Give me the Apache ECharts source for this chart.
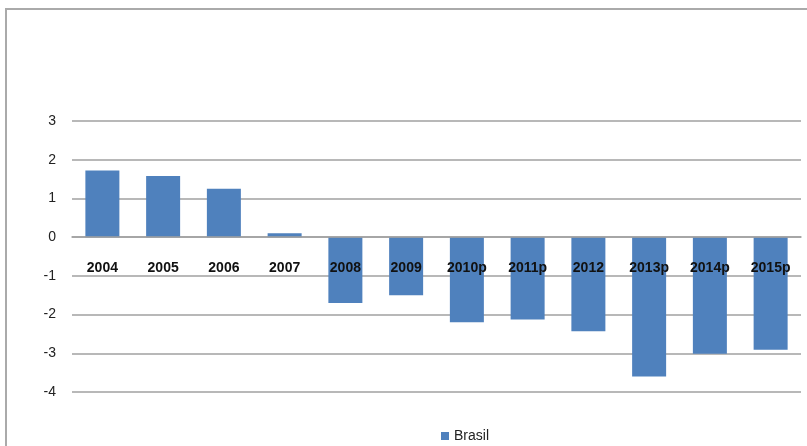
<!DOCTYPE html>
<html>
<head>
<meta charset="utf-8">
<script src="https://cdn.jsdelivr.net/npm/echarts@6/dist/echarts.min.js"></script>
<style>
  html, body { margin: 0; padding: 0; background: #fff; }
  #chart { width: 807px; height: 446px; }
</style>
</head>
<body>
<div id="chart"></div>
<script>
// categorias (anos) e valores da série Brasil
const years = ["2004", "2005", "2006", "2007", "2008", "2009", "2010p", "2011p", "2012", "2013p", "2014p", "2015p"];
const brasil = [1.72, 1.58, 1.25, 0.1, -1.7, -1.5, -2.2, -2.13, -2.43, -3.6, -3.01, -2.91];
const seriesName = "Brasil";

const chart = echarts.init(document.getElementById("chart"));

const option = {
  animation: false,
  backgroundColor: "#fff",
  textStyle: { fontFamily: "Liberation Sans" },
  graphic: [
    {
      type: "rect",
      shape: { x: 6, y: 9, width: 900, height: 600 },
      style: { fill: "none", stroke: "#aaaaaa", lineWidth: 2 },
      silent: true,
    },
  ],
  legend: {
    data: [seriesName],
    left: 436,
    top: 424,
    itemWidth: 8,
    itemHeight: 8,
    itemGap: 5,
    icon: "rect",
    textStyle: { fontSize: 14, color: "#222", fontFamily: "Liberation Sans" },
  },
  grid: {
    left: 72,
    right: 6,
    top: 121,
    bottom: 54,
    containLabel: false,
  },
  xAxis: {
    type: "category",
    data: years,
    // eixo deslocado até a linha do zero (rótulos seguem o eixo, como no Excel)
    offset: -155,
    axisLine: { show: true, onZero: false, lineStyle: { color: "#a0a0a0", width: 1.5 } },
    axisTick: { show: false },
    axisLabel: {
      margin: 24,
      fontSize: 14,
      fontWeight: "bold",
      color: "#111",
      fontFamily: "Liberation Sans",
      interval: 0,
    },
    z: 10,
  },
  yAxis: {
    type: "value",
    min: -4,
    max: 3,
    interval: 1,
    axisLine: { show: false },
    axisTick: { show: false },
    axisLabel: { fontSize: 14, color: "#222", margin: 16, fontFamily: "Liberation Sans" },
    splitLine: { lineStyle: { color: "#a0a0a0", width: 1.5 } },
  },
  series: [
    {
      name: seriesName,
      type: "bar",
      data: brasil,
      barWidth: 34,
      itemStyle: { color: "#4f81bd" },
    },
  ],
};

chart.setOption(option);
</script>
</body>
</html>
